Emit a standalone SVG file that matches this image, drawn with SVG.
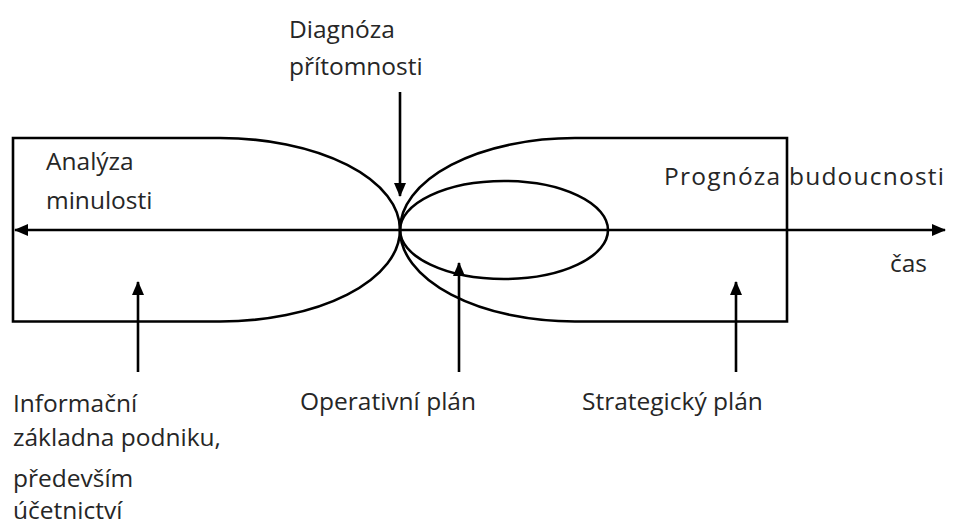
<svg xmlns="http://www.w3.org/2000/svg" width="955" height="527" viewBox="0 0 955 527">
<defs>
<marker id="ah" markerWidth="14" markerHeight="12" refX="13" refY="6" orient="auto" markerUnits="userSpaceOnUse">
<path d="M0,0 L14,6 L0,12 Z" fill="#000"/>
</marker>
<style>
.ln{fill:none;stroke:#000;stroke-width:2.6}
.t{font-family:"Open Sans","Liberation Sans",sans-serif;font-size:24.5px;fill:#262626}
</style>
</defs>
<rect width="955" height="527" fill="#fff"/>
<g id="past-shape">
<path class="ln" d="M220,138 H13 V321.5 H220 A180,91.75 0 0 0 220,138 Z"/>
</g>
<g id="future-shape">
<path class="ln" d="M575,138 H787 V321.5 H575 A175,91.75 0 0 1 575,138 Z"/>
</g>
<g id="operative-ellipse">
<ellipse class="ln" cx="504" cy="230" rx="104" ry="49"/>
</g>
<g id="connectors">
<line class="ln" x1="400" y1="230" x2="15" y2="230" marker-end="url(#ah)"/>
<line class="ln" x1="400" y1="230" x2="945" y2="230" marker-end="url(#ah)"/>
<line class="ln" x1="400" y1="92" x2="400" y2="196" marker-end="url(#ah)"/>
<line class="ln" x1="138" y1="372" x2="138" y2="282" marker-end="url(#ah)"/>
<line class="ln" x1="459" y1="372" x2="459" y2="263" marker-end="url(#ah)"/>
<line class="ln" x1="736" y1="372" x2="736" y2="282" marker-end="url(#ah)"/>
</g>
<g id="label-diagnoza">
<text class="t" x="289" y="38">Diagnóza</text>
<text class="t" x="289" y="75">přítomnosti</text>
</g>
<g id="label-analyza">
<text class="t" x="46" y="170">Analýza</text>
<text class="t" x="46" y="209">minulosti</text>
</g>
<g id="label-prognoza">
<text class="t" x="664" y="185" textLength="280" lengthAdjust="spacing">Prognóza budoucnosti</text>
</g>
<g id="label-cas">
<text class="t" x="890" y="272">čas</text>
</g>
<g id="label-informacni">
<text class="t" x="13" y="412">Informační</text>
<text class="t" x="13" y="446">základna podniku,</text>
<text class="t" x="13" y="487">především</text>
<text class="t" x="13" y="519">účetnictví</text>
</g>
<g id="label-operativni">
<text class="t" x="300" y="410">Operativní plán</text>
</g>
<g id="label-strategicky">
<text class="t" x="582" y="410">Strategický plán</text>
</g>
</svg>
